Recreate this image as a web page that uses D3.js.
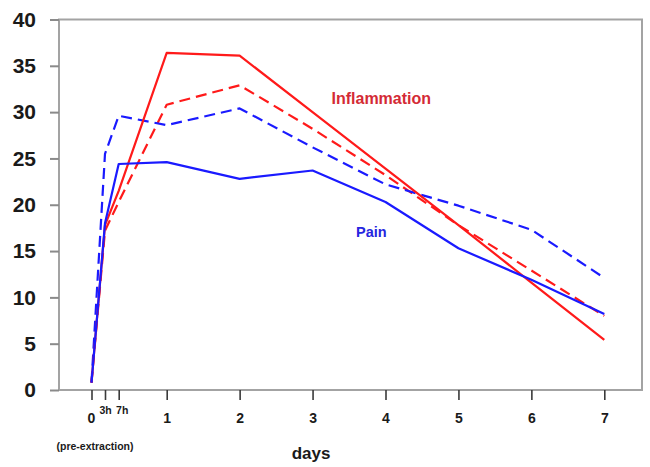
<!DOCTYPE html>
<html>
<head>
<meta charset="utf-8">
<script src="https://cdn.jsdelivr.net/npm/d3@7"></script>
<style>
  html, body { margin: 0; padding: 0; background: #fff; }
  svg { display: block; font-family: "Liberation Sans", Arial, sans-serif; }
</style>
</head>
<body>
<div id="chart"></div>
<script>
// ---- data ----
const timeLabels = ["0", "3h", "7h", "1", "2", "3", "4", "5", "6", "7"];
const timeDays = [0, 0.125, 0.2917, 1, 2, 3, 4, 5, 6, 7];
const inflammationSolid  = [0.8, 17.8, 21.5, 36.4, 36.1, 30.0, 23.9, 17.8, 11.6, 5.4];
const inflammationDashed = [0.8, 17.2, 20.3, 30.8, 32.9, 28.2, 23.2, 17.8, 12.9, 8.0];
const painSolid  = [0.8, 18.0, 24.4, 24.6, 22.8, 23.7, 20.3, 15.3, 11.9, 8.2];
const painDashed = [0.8, 25.5, 29.6, 28.6, 30.4, 26.2, 22.2, 19.9, 17.3, 12.1];
const yTicks = [0, 5, 10, 15, 20, 25, 30, 35, 40];

const series = [
  { values: inflammationDashed, color: "#ff1a1a", dash: "11,6" },
  { values: painDashed, color: "#1a1aff", dash: "11,6" },
  { values: inflammationSolid, color: "#ff1a1a", dash: null },
  { values: painSolid, color: "#1a1aff", dash: null }
];

// ---- layout ----
const W = 650, H = 467;
const svg = d3.select("#chart").append("svg").attr("width", W).attr("height", H);

const x = d3.scaleLinear()
  .domain([0, 0.125, 0.2917, 1, 7])
  .range([91.5, 105, 118.7, 166.7, 604.3]);
const y = d3.scaleLinear().domain([0, 40]).range([390, 19.5]);

// frame
svg.append("rect")
  .attr("x", 59).attr("y", 19.5)
  .attr("width", 642 - 59).attr("height", 390 - 19.5)
  .attr("fill", "none").attr("stroke", "#a3a3a3").attr("stroke-width", 2);

// y axis
const yAxis = svg.append("g").attr("transform", "translate(59,0)")
  .call(d3.axisLeft(y).tickValues(yTicks).tickSize(9).tickPadding(14));
yAxis.select(".domain").remove();
yAxis.selectAll(".tick line").attr("stroke", "#8a8a8a").attr("stroke-width", 2);
yAxis.selectAll(".tick text")
  .attr("font-size", 21).attr("font-weight", "bold").attr("fill", "#1a1a1a")
  .attr("font-family", "'Liberation Sans', Arial, sans-serif");

// x axis
const xAxis = svg.append("g").attr("transform", "translate(0,390)")
  .call(d3.axisBottom(x).tickValues(timeDays).tickSize(10)
    .tickFormat((d, i) => timeLabels[i]));
xAxis.select(".domain").remove();
xAxis.selectAll(".tick line").attr("stroke", "#3a3a3a").attr("stroke-width", 1.6);
xAxis.selectAll(".tick text")
  .attr("font-family", "'Liberation Sans', Arial, sans-serif")
  .attr("font-weight", "bold").attr("fill", "#1a1a1a")
  .each(function(d, i) {
    const t = d3.select(this);
    const small = timeLabels[i].endsWith("h");
    t.attr("font-size", small ? 10.5 : 14)
     .attr("dy", null)
     .attr("y", small ? 24 : 33)
     .attr("dx", timeLabels[i] === "7h" ? 3 : (timeLabels[i] === "0" ? -0.5 : 0));
  });

// lines
const line = d3.line()
  .x((d, i) => x(timeDays[i]))
  .y(d => y(d));

svg.append("g").selectAll("path").data(series).join("path")
  .attr("d", d => line(d.values))
  .attr("fill", "none")
  .attr("stroke", d => d.color)
  .attr("stroke-width", 2.2)
  .attr("stroke-linejoin", "round")
  .attr("stroke-dasharray", d => d.dash);

// labels
svg.append("text").attr("x", 331.5).attr("y", 103.5)
  .attr("font-size", 16).attr("font-weight", "bold").attr("fill", "#d42a35")
  .text("Inflammation");
svg.append("text").attr("x", 356).attr("y", 236.5)
  .attr("font-size", 14.5).attr("font-weight", "bold").attr("fill", "#2626e0")
  .text("Pain");

svg.append("text").attr("x", 95).attr("y", 449.5).attr("text-anchor", "middle")
  .attr("font-size", 10.5).attr("font-weight", "bold").attr("fill", "#1a1a1a")
  .text("(pre-extraction)");
svg.append("text").attr("x", 311).attr("y", 458.5).attr("text-anchor", "middle")
  .attr("font-size", 17).attr("font-weight", "bold").attr("fill", "#1a1a1a")
  .text("days");
</script>
</body>
</html>
